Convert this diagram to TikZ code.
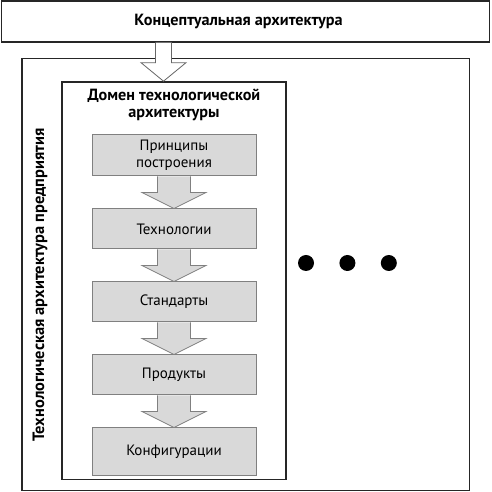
\documentclass[tikz,border=0pt]{standalone}
\usepackage{fontspec}
\setmainfont{PT Sans}
\usetikzlibrary{positioning,calc}

% block arrow: style, from node, to coordinate, shaft half, head half, head length
\newcommand{\blockarrow}[6]{%
  \draw[#1] let \p1=(#2.south -| #3), \p2=(#3) in
    (\x1-#4,\y1) -- (\x1-#4,\y2+#6) -- (\x1-#5,\y2+#6) -- (\x1,\y2)
    -- (\x1+#5,\y2+#6) -- (\x1+#4,\y2+#6) -- (\x1+#4,\y1);
}

\begin{document}
\begin{tikzpicture}[x=1pt,y=1pt,node distance=32pt,font=\fontsize{15}{17}\selectfont]
\tikzstyle{frame}=[draw=black!85,line width=1.6pt,fill=white,inner sep=0pt]
  \tikzstyle{level}=[draw=black!50,line width=1pt,fill=black!15,minimum width=164pt,minimum height=40pt,align=center,inner sep=2pt]
  \tikzstyle{hollow}=[draw=black!60,line width=0.8pt,fill=white]
  \tikzstyle{flow}=[draw=black!50,line width=0.8pt,fill=black!15]
  \tikzstyle{dot}=[circle,fill=black,minimum size=16pt,inner sep=0pt]
  \tikzstyle{heading}=[font=\fontsize{16.2}{17}\selectfont\bfseries]
\useasboundingbox (0,0) rectangle (491,492);
%
%
\node[frame,minimum width=488pt,minimum height=40.5pt] (concept) at (245.5,470.5) {};
  \node[heading] (conceptlab) at (238.5,471) {Концептуальная архитектура};
  \node[frame,minimum width=447.5pt,minimum height=432pt] (enterprise) at (245.75,217.5) {};
  \node[rotate=90,font=\fontsize{16.4}{17}\selectfont\bfseries] (entlab) at (40,207) {Технологическая архитектура предприятия};
  \node[frame,minimum width=224pt,minimum height=397.5pt] (domain) at (174,211.25) {};
  \node[below=4pt of domain.north,align=center,heading] (domlab) {Домен технологической\\архитектуры};
  \node[level,minimum height=41pt] (principles) at (174,336.5) {Принципы\\построения};
  \node[level] (tech) [below=of principles] {Технологии};
  \node[level] (standards) [below=of tech] {Стандарты};
  \node[level] (products) [below=of standards] {Продукты};
  \node[level,minimum height=48pt] (configs) [below=of products] {Конфигурации};
  \node[dot] (d1) at (306,229) {};
  \node[dot] (d2) [right=25pt of d1] {};
  \node[dot] (d3) [right=25pt of d2] {};
  \coordinate (entry) at ([xshift=-10.5pt]domain.north);

  \blockarrow{hollow}{concept}{entry}{8pt}{22.5pt}{18.5pt}
  \blockarrow{flow}{principles}{tech.north}{16.5pt}{32pt}{16pt}
  \blockarrow{flow}{tech}{standards.north}{16.5pt}{32pt}{16pt}
  \blockarrow{flow}{standards}{products.north}{16.5pt}{32pt}{16pt}
  \blockarrow{flow}{products}{configs.north}{16.5pt}{32pt}{16pt}
\end{tikzpicture}
\end{document}
